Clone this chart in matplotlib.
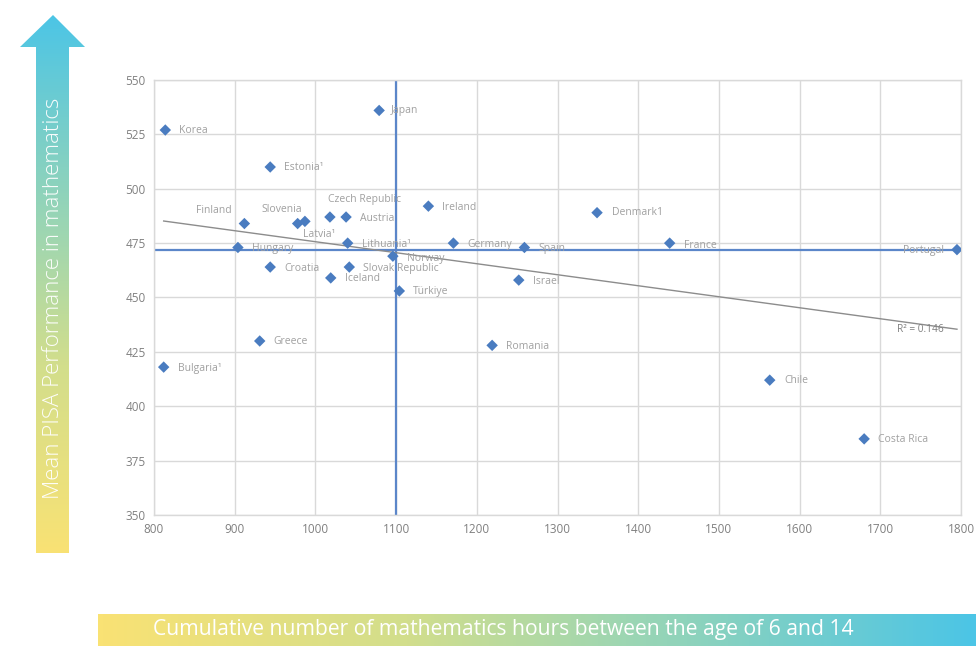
import numpy as np
import matplotlib
matplotlib.use("Agg")
import matplotlib.pyplot as plt
from matplotlib.colors import LinearSegmentedColormap
from matplotlib.patches import Polygon

# ---------------- data ----------------
countries = ["Korea", "Japan", "Estonia¹", "Finland", "Slovenia", "Latvia¹",
             "Czech Republic", "Austria", "Ireland", "Denmark1", "Lithuania¹",
             "Hungary", "Germany", "Spain", "France", "Portugal", "Norway",
             "Croatia", "Slovak Republic", "Iceland", "Türkiye", "Israel",
             "Greece", "Romania", "Bulgaria¹", "Chile", "Costa Rica"]
hours = [814, 1079, 944, 912, 987, 978,
         1018, 1038, 1140, 1349, 1040,
         904, 1171, 1259, 1439, 1795, 1096,
         944, 1042, 1019, 1104, 1252,
         931, 1219, 812, 1563, 1680]
scores = [527, 536, 510, 484, 485, 484,
          487, 487, 492, 489, 475,
          473, 475, 473, 475, 472, 469,
          464, 464, 459, 453, 458,
          430, 428, 418, 412, 385]
oecd_hours = 1100
oecd_score = 472
r2_text = "R² = 0.146"
xticks = [800, 900, 1000, 1100, 1200, 1300, 1400, 1500, 1600, 1700, 1800]
yticks = [350, 375, 400, 425, 450, 475, 500, 525, 550]
ylabel_text = "Mean PISA Performance in mathematics"
xlabel_text = "Cumulative number of mathematics hours between the age of 6 and 14"

# ---------------- label placement (pixels) ----------------
default_off = (14, -1, "left")
offsets = {
    "Finland": (-13, 13, "right"),
    "Slovenia": (-3, 12, "right"),
    "Latvia¹": (5, -11, "left"),
    "Czech Republic": (-2, 18, "left"),
    "Portugal": (-13, -1, "right"),
    "France": (14, -2, "left"),
    "Norway": (14, -2, "left"),
    "Japan": (12, 0, "left"),
    "Korea": (14, 0, "left"),
    "Denmark1": (15, 0, "left"),
    "Chile": (15, 0, "left"),
}

W, H = 976, 658
fig = plt.figure(figsize=(W / 100, H / 100), dpi=100)

# background axes in pixel coordinates for decorative arrows
bg = fig.add_axes([0, 0, 1, 1], zorder=0)
bg.set_xlim(0, W)
bg.set_ylim(H, 0)
bg.axis("off")

cmap = LinearSegmentedColormap.from_list(
    "yc", [(0.0, "#F9E274"), (0.35, "#D2DE8C"), (0.6, "#9DD6B2"), (1.0, "#4CC5E6")])

# vertical arrow
arrow_pts = [(36, 553), (69, 553), (69, 47), (85, 47), (53, 15), (20, 47), (36, 47)]
grad_v = np.linspace(0, 1, 256).reshape(-1, 1)
im = bg.imshow(grad_v, cmap=cmap, extent=(20, 85, 553, 15), origin="lower",
               aspect="auto", interpolation="bicubic")
poly = Polygon(arrow_pts, closed=True, transform=bg.transData, facecolor="none",
               edgecolor="none")
bg.add_patch(poly)
im.set_clip_path(poly)
bg.text(54, 298, ylabel_text, rotation=90, color="white", fontsize=16,
        family="Open Sans", fontweight="light", ha="center", va="center", alpha=0.95)

# horizontal bar
grad_h = np.linspace(0, 1, 256).reshape(1, -1)
bg.imshow(grad_h, cmap=cmap, extent=(98, 976, 646, 614), aspect="auto",
          interpolation="bicubic")
bg.text(503, 630, xlabel_text, color="white", fontsize=15.2,
        family=["Liberation Sans Narrow", "Open Sans"], ha="center", va="center")
bg.set_xlim(0, W)
bg.set_ylim(H, 0)

# main chart
ax = fig.add_axes([154 / W, 1 - 515 / H, (961 - 154) / W, (515 - 80) / H], zorder=1)
ax.set_xlim(800, 1800)
ax.set_ylim(350, 550)
ax.set_xticks(xticks)
ax.set_yticks(yticks)
ax.grid(True, color="#d9d9d9", linewidth=1.0)
ax.set_axisbelow(True)
for s in ax.spines.values():
    s.set_color("#d9d9d9")
    s.set_linewidth(1.0)
ax.tick_params(length=0, labelsize=8.5, labelcolor="#808080", pad=6)
for lab in ax.get_xticklabels() + ax.get_yticklabels():
    lab.set_family(["Liberation Sans Narrow", "Open Sans"])

ax.axvline(oecd_hours, color="#5B86C9", linewidth=1.6, zorder=2)
ax.axhline(oecd_score, color="#5B86C9", linewidth=1.6, zorder=2)

x = np.array(hours, dtype=float)
y = np.array(scores, dtype=float)
k, b = np.polyfit(x, y, 1)
xs = np.array([x.min(), x.max()])
ax.plot(xs, k * xs + b, color="#8c8c8c", linewidth=1.0, zorder=2)

ax.scatter(x, y, marker="D", s=34, color="#4A7CC0", edgecolors="none", zorder=4)

for c, xi, yi in zip(countries, hours, scores):
    dx, dy, ha = offsets.get(c, default_off)
    ax.annotate(c, (xi, yi), xytext=(dx, dy), textcoords="offset pixels",
                ha=ha, va="center", fontsize=7.5, color="#a0a0a0",
                family="Open Sans", zorder=3)

ax.annotate(r2_text, (xs[1], k * xs[1] + b), xytext=(-13, 0), textcoords="offset pixels",
            ha="right", va="center", fontsize=7.3, color="#7f7f7f", family="Open Sans",
            zorder=3)

fig.savefig("out.png", dpi=100)
